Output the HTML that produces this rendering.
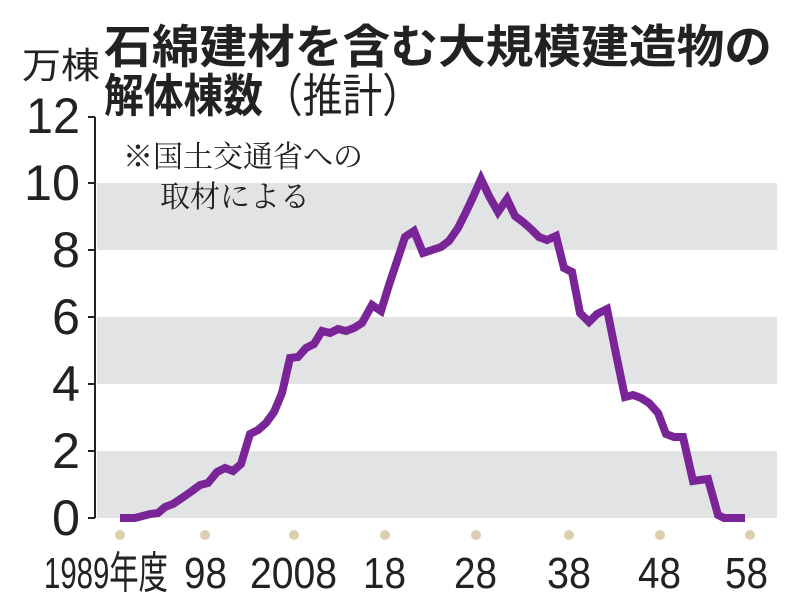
<!DOCTYPE html>
<html><head><meta charset="utf-8"><style>
html,body{margin:0;padding:0;background:#fff;width:800px;height:614px;overflow:hidden}
svg text{font-family:"Liberation Sans","Noto Sans CJK JP",sans-serif;fill:#222}
</style></head><body>
<svg width="800" height="614" viewBox="0 0 800 614">
<rect x="97" y="183" width="680" height="67" fill="#e2e3e5"/>
<rect x="97" y="317" width="680" height="67" fill="#e2e3e5"/>
<rect x="97" y="451" width="680" height="67" fill="#e2e3e5"/>
<path d="M95 117V518M88 117H95M88 183H95M88 250H95M88 317H95M88 384H95M88 451H95M88 518H95" stroke="#222" stroke-width="2" fill="none"/>
<g font-size="50" text-anchor="end">
<text x="80" y="133" textLength="54" lengthAdjust="spacingAndGlyphs">12</text>
<text x="80" y="200" textLength="56" lengthAdjust="spacingAndGlyphs">10</text>
<text x="80" y="267" textLength="28" lengthAdjust="spacingAndGlyphs">8</text>
<text x="80" y="334" textLength="28" lengthAdjust="spacingAndGlyphs">6</text>
<text x="80" y="401" textLength="28" lengthAdjust="spacingAndGlyphs">4</text>
<text x="80" y="468" textLength="28" lengthAdjust="spacingAndGlyphs">2</text>
<text x="80" y="535" textLength="28" lengthAdjust="spacingAndGlyphs">0</text>
</g>
<text x="22" y="78" font-size="36" textLength="78" lengthAdjust="spacingAndGlyphs">万棟</text>
<text x="104" y="63" font-size="46" font-weight="bold" textLength="668" lengthAdjust="spacingAndGlyphs">石綿建材を含む大規模建造物の</text>
<text x="104" y="112" font-size="46" font-weight="bold" textLength="318" lengthAdjust="spacingAndGlyphs">解体棟数<tspan font-weight="normal">（推計）</tspan></text>
<text x="123" y="167" font-size="30" style="font-family:'Liberation Serif','Noto Serif CJK SC',serif">※国土交通省への</text>
<text x="160" y="207" font-size="30" style="font-family:'Liberation Serif','Noto Serif CJK SC',serif">取材による</text>
<g fill="#dccfb0">
<circle cx="120" cy="535" r="5"/><circle cx="205" cy="535" r="5"/><circle cx="294" cy="535" r="5"/><circle cx="385" cy="535" r="5"/><circle cx="476" cy="535" r="5"/><circle cx="569" cy="535" r="5"/><circle cx="660" cy="535" r="5"/><circle cx="750" cy="535" r="5"/>
</g>
<g font-size="44">
<text x="44" y="588" textLength="124" lengthAdjust="spacingAndGlyphs">1989年度</text>
<text x="184" y="588" textLength="43" lengthAdjust="spacingAndGlyphs">98</text>
<text x="250" y="588" textLength="87" lengthAdjust="spacingAndGlyphs">2008</text>
<text x="363" y="588" textLength="43" lengthAdjust="spacingAndGlyphs">18</text>
<text x="454" y="588" textLength="43" lengthAdjust="spacingAndGlyphs">28</text>
<text x="547" y="588" textLength="44" lengthAdjust="spacingAndGlyphs">38</text>
<text x="638" y="588" textLength="43" lengthAdjust="spacingAndGlyphs">48</text>
<text x="725" y="588" textLength="43" lengthAdjust="spacingAndGlyphs">58</text>
</g>
<polyline fill="none" stroke="#7a2597" stroke-width="8" stroke-linejoin="miter" points="120,518 135,518 150,514 158,513 165,507 173,504 182,498 192,491 200,485 208,483 217,472 225,468 233,471 241,464 250,434 258,430 266,423 274,412 282,393 290,358 298,357 306,348 314,344 322,331 330,333 338,329 346,331 354,328 362,323 372,305 381,311 389,285 397,261 405,237 414,231 423,253 432,250 441,247 449,241 458,228 466,212 474,195 481,179 489,196 498,212 507,199 515,216 523,222 531,229 539,237 547,240 556,236 564,268 572,272 580,313 589,322 597,314 607,309 616,354 625,397 633,395 641,398 649,403 658,413 666,434 674,437 683,437 693,481 700,480 708,479 718,515 724,518 745,518"/>
</svg>
</body></html>
